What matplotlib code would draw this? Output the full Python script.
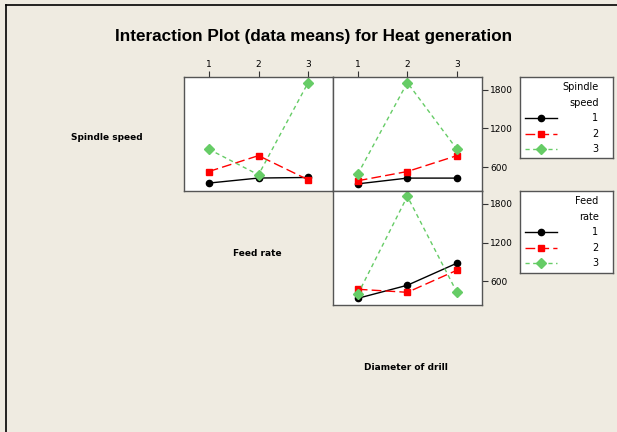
import numpy as np
import matplotlib
matplotlib.use("Agg")
import matplotlib.pyplot as plt
from matplotlib.lines import Line2D

# niveis dos fatores
levels = [1, 2, 3]
level_labels = ["1", "2", "3"]

# media de Heat generation: x = Feed rate, linhas = Spindle speed
feed_ss1 = [353, 431, 440]
feed_ss2 = [532, 778, 404]
feed_ss3 = [877, 481, 1909]

# x = Diameter of drill, linhas = Spindle speed
diam_ss1 = [341, 430, 430]
diam_ss2 = [389, 532, 778]
diam_ss3 = [492, 1909, 877]

# x = Diameter of drill, linhas = Feed rate
diam_fr1 = [338, 540, 881]
diam_fr2 = [478, 431, 772]
diam_fr3 = [400, 1913, 431]

y_ticks = [600, 1200, 1800]
y_lim = (235, 2000)

title = "Interaction Plot (data means) for Heat generation"
factor_names = ["Spindle speed", "Feed rate", "Diameter of drill"]
legend_titles = [["Spindle", "speed"], ["Feed", "rate"]]

bg = "#efebe1"
green = "#66cc66"
styles = [
    dict(color="black", linestyle="-", marker="o", markersize=4.5),
    dict(color="#ff0000", linestyle=(0, (7, 3)), marker="s", markersize=5),
    dict(color=green, linestyle=(0, (3, 2.5)), marker="D", markersize=5),
]

W, H = 617, 432
fig = plt.figure(figsize=(W / 100, H / 100), dpi=100, facecolor=bg)


def fx(px):
    return px / W


def fy(py):
    return 1 - py / H


def make_ax(x0, x1, y0, y1):
    ax = fig.add_axes([fx(x0), fy(y1), fx(x1) - fx(x0), fy(y0) - fy(y1)])
    ax.set_facecolor("white")
    for s in ax.spines.values():
        s.set_color("#555555")
        s.set_linewidth(1.0)
    ax.set_xticks([])
    ax.set_yticks([])
    return ax


ax1 = make_ax(184, 333, 76.7, 190.7)
ax2 = make_ax(333, 481.7, 76.7, 190.7)
ax3 = make_ax(333, 481.7, 190.7, 305)

for ax in (ax1, ax2, ax3):
    ax.set_xlim(0.5, 3.5)
    ax.set_ylim(*y_lim)

for ax in (ax1, ax2):
    ax.set_xticks(levels)
    ax.set_xticklabels(level_labels)
    ax.xaxis.tick_top()
    ax.tick_params(axis="x", direction="out", length=4, width=0.8,
                   color="#333333", labelsize=6.5, pad=1.5)
for ax in (ax2, ax3):
    ax.set_yticks(y_ticks)
    ax.yaxis.tick_right()
    ax.tick_params(axis="y", direction="out", length=4, width=0.8,
                   color="#333333", labelsize=6.5, pad=2)

for ax, series in ((ax1, [feed_ss1, feed_ss2, feed_ss3]),
                   (ax2, [diam_ss1, diam_ss2, diam_ss3]),
                   (ax3, [diam_fr1, diam_fr2, diam_fr3])):
    for vals, st in zip(series, styles):
        ax.plot(levels, vals, linewidth=1.0, clip_on=False, **st)

# titulo e nomes dos fatores
fig.text(fx(314), fy(36), title, ha="center", va="center",
         fontsize=12.3, fontweight="bold", family="Liberation Sans")
fig.text(fx(107), fy(138), factor_names[0], ha="center", va="center",
         fontsize=6.5, fontweight="bold")
fig.text(fx(257), fy(253), factor_names[1], ha="center", va="center",
         fontsize=6.5, fontweight="bold")
fig.text(fx(406), fy(367), factor_names[2], ha="center", va="center",
         fontsize=6.5, fontweight="bold")

# legendas (caixas desenhadas a mao para acertar o espacamento)
entry_y = [0.494, 0.304, 0.115]
title_y = [0.877, 0.679]
for ttl, (top, bot) in zip(legend_titles, ((77.3, 158.3), (190.7, 272.7))):
    lg = make_ax(520, 613, top, bot)
    lg.set_xlim(0, 1)
    lg.set_ylim(0, 1)
    for line, ty in zip(ttl, title_y):
        lg.text(0.845, ty, line, ha="right", va="center", fontsize=7)
    for lab, ey, st in zip(level_labels, entry_y, styles):
        lg.plot([0.054, 0.226, 0.398], [ey] * 3, linewidth=1.0,
                markevery=[1], **st)
        lg.text(0.84, ey, lab, ha="right", va="center", fontsize=7)

# moldura parcial (topo e esquerda)
fig.add_artist(Line2D([fx(6), 1], [fy(5), fy(5)], color="black", linewidth=1.2))
fig.add_artist(Line2D([fx(6), fx(6)], [fy(5), 0], color="black", linewidth=1.2))

fig.savefig("out.png", dpi=100, facecolor=bg)
